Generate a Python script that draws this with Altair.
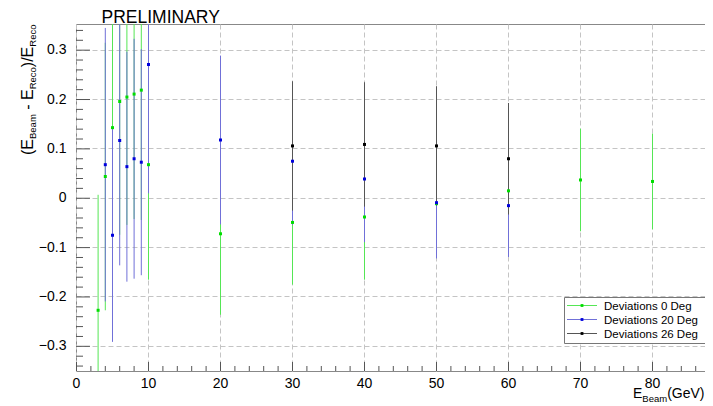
import altair as alt
import pandas as pd

# ---------------- data ----------------
series_names = ["Deviations 0 Deg", "Deviations 20 Deg", "Deviations 26 Deg"]
point_colors = ["#00dd00", "#0000dd", "#000000"]
line_colors = ["#55e655", "#7070d8", "#555555"]

e_beam_0 = [3, 4, 5, 6, 7, 8, 9, 10, 20, 30, 40, 50, 60, 70, 80]
dev_0 = [-0.228, 0.043, 0.142, 0.195, 0.204, 0.210, 0.218, 0.067, -0.073, -0.050, -0.039, -0.012, 0.014, 0.036, 0.033]
err_0 = [0.234, 0.271, 0.269, 0.270, 0.259, 0.253, 0.263, 0.233, 0.164, 0.126, 0.127, 0.100, 0.103, 0.104, 0.097]

e_beam_20 = [4, 5, 6, 7, 8, 9, 10, 20, 30, 40, 50, 60]
dev_20 = [0.067, -0.076, 0.116, 0.063, 0.079, 0.072, 0.270, 0.117, 0.074, 0.038, -0.010, -0.016]
err_20 = [0.277, 0.216, 0.253, 0.233, 0.243, 0.229, 0.261, 0.171, 0.129, 0.128, 0.113, 0.104]

e_beam_26 = [30, 40, 50, 60]
dev_26 = [0.105, 0.108, 0.105, 0.079]
err_26 = [0.131, 0.126, 0.121, 0.113]

x_major = [0, 10, 20, 30, 40, 50, 60, 70, 80]
x_minor = [v for v in range(2, 88, 2) if v % 10 != 0]
y_major = [-0.3, -0.2, -0.1, 0.0, 0.1, 0.2, 0.3]
y_minor = [round(-0.34 + 0.02 * i, 2) for i in range(35) if (i % 5) != 2]

FONT = "Liberation Sans"
W, H = 629, 347

xscale = alt.Scale(domain=[0, 87.36], nice=False, zero=False)
yscale = alt.Scale(domain=[-0.351, 0.352], nice=False, zero=False)
grid_kw = dict(grid=True, gridDash=[5, 3], gridColor="#c4c4c4", gridWidth=1,
               ticks=False, domain=False, title=None, labelFont=FONT,
               labelFontSize=14, labelColor="black")
xaxis = alt.Axis(values=x_major, labelPadding=5, labelFlush=False, **grid_kw)
yaxis = alt.Axis(values=y_major, format=".1~f", labelPadding=10, **grid_kw)


def make_df(xs, ys, es):
    return pd.DataFrame({"x": xs, "y": ys,
                         "lo": [a - b for a, b in zip(ys, es)],
                         "hi": [a + b for a, b in zip(ys, es)]})


def rule_layer(df, lcol):
    return alt.Chart(df).mark_rule(clip=True, strokeWidth=1, color=lcol, xOffset=0.5).encode(
        x=alt.X("x:Q", scale=xscale, axis=xaxis),
        y=alt.Y("lo:Q", scale=yscale, axis=yaxis),
        y2="hi:Q")


def point_layer(df, pcol):
    return alt.Chart(df).mark_square(size=9, color=pcol, opacity=1, clip=True, xOffset=0.5).encode(
        x=alt.X("x:Q", scale=xscale, axis=xaxis),
        y=alt.Y("y:Q", scale=yscale, axis=yaxis))


dfs = [make_df(e_beam_0, dev_0, err_0),
       make_df(e_beam_20, dev_20, err_20),
       make_df(e_beam_26, dev_26, err_26)]

layers = []
# inward tick marks
layers.append(alt.Chart(pd.DataFrame({"v": y_major})).mark_rule(color="#555", strokeWidth=1, yOffset=0.5).encode(
    y=alt.Y("v:Q", scale=yscale, axis=yaxis), x=alt.value(0), x2=alt.value(14)))
layers.append(alt.Chart(pd.DataFrame({"v": y_minor})).mark_rule(color="#555", strokeWidth=1, yOffset=0.5).encode(
    y=alt.Y("v:Q", scale=yscale, axis=yaxis), x=alt.value(0), x2=alt.value(7)))
layers.append(alt.Chart(pd.DataFrame({"v": x_major})).mark_rule(color="#555", strokeWidth=1, xOffset=0.5).encode(
    x=alt.X("v:Q", scale=xscale, axis=xaxis), y=alt.value(H), y2=alt.value(H - 9)))
layers.append(alt.Chart(pd.DataFrame({"v": x_minor})).mark_rule(color="#555", strokeWidth=1, xOffset=0.5).encode(
    x=alt.X("v:Q", scale=xscale, axis=xaxis), y=alt.value(H), y2=alt.value(H - 5)))

for df, lc in zip(dfs, line_colors):
    layers.append(rule_layer(df, lc))
for df, pc in zip(dfs, point_colors):
    layers.append(point_layer(df, pc))

# legend box
one = pd.DataFrame({"k": [0]})
layers.append(alt.Chart(one).mark_rect(fill="white", stroke="#777", strokeWidth=1).encode(
    x=alt.value(488.5), x2=alt.value(645), y=alt.value(273.5), y2=alt.value(319.5)))
for i, name in enumerate(series_names):
    ry = 281.5 + 14 * i
    layers.append(alt.Chart(one).mark_rule(color=line_colors[i], strokeWidth=1).encode(
        x=alt.value(491), x2=alt.value(521), y=alt.value(ry)))
    layers.append(alt.Chart(one).mark_square(size=8, color=point_colors[i], opacity=1).encode(
        x=alt.value(506), y=alt.value(ry)))
    layers.append(alt.Chart(pd.DataFrame({"t": [name]})).mark_text(
        align="left", baseline="middle", font=FONT, fontSize=11.5, color="black").encode(
        text="t:N", x=alt.value(528), y=alt.value(ry + 1)))

# title
layers.append(alt.Chart(pd.DataFrame({"t": ["PRELIMINARY"]})).mark_text(
    align="left", baseline="alphabetic", font=FONT, fontSize=17.5, color="black").encode(
    text="t:N", x=alt.value(25.5), y=alt.value(-0.8)))

# y-axis title with subscripts (rotated, chained by font metrics)
y_title_parts = [("(E", 131, 16, -43), ("Beam", 115, 9.5, -40.5), ("-", 85.8, 16, -43),
                 ("E", 76, 16, -43), ("Reco", 65.3, 9.5, -40.5), (")/", 43.2, 16, -43),
                 ("E", 33.4, 16, -43), ("Reco", 22.7, 9.5, -40.5)]
for txt, yy, fs, xx in y_title_parts:
    layers.append(alt.Chart(pd.DataFrame({"t": [txt]})).mark_text(
        align="left", baseline="alphabetic", angle=270, font=FONT, fontSize=fs, color="black").encode(
        text="t:N", x=alt.value(xx), y=alt.value(yy)))

# x-axis title with subscript
x_title_parts = [("(GeV)", 628.5, 374, 14), ("Beam", 591.2, 377.5, 9.5), ("E", 566.4, 374, 14)]
for txt, xx, yy, fs in x_title_parts:
    layers.append(alt.Chart(pd.DataFrame({"t": [txt]})).mark_text(
        align="right", baseline="alphabetic", font=FONT, fontSize=fs, color="black").encode(
        text="t:N", x=alt.value(xx), y=alt.value(yy)))

chart = alt.layer(*layers).properties(
    width=W, height=H,
    autosize=alt.AutoSizeParams(type="none"),
    padding={"left": 68, "top": 16, "right": 0, "bottom": 35},
).configure_view(stroke="#888888", strokeWidth=1)

chart.save("out.html", embed_options={"renderer": "svg", "actions": False})
